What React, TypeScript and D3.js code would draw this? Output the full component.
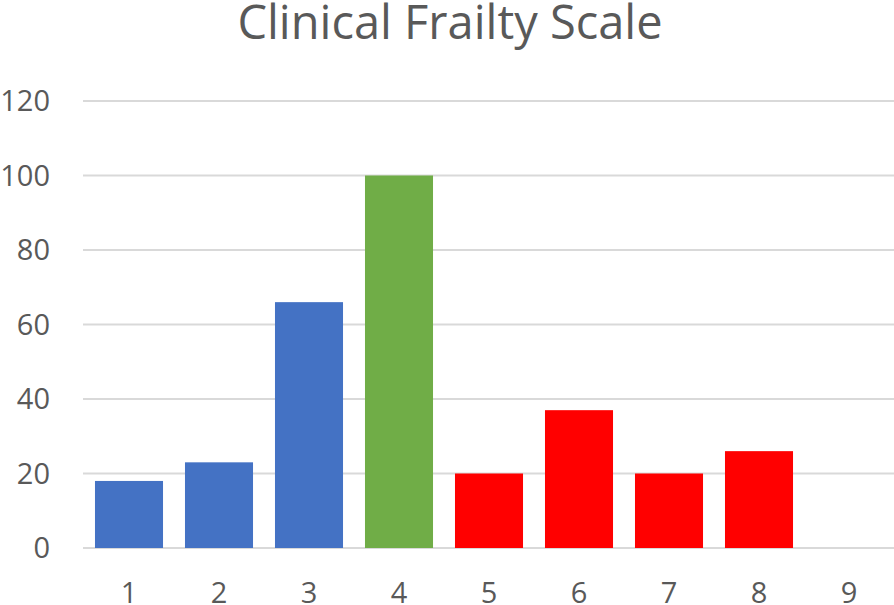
import React, { useEffect, useRef } from 'react';
import * as d3 from 'd3';

const categories = ['1', '2', '3', '4', '5', '6', '7', '8', '9'];
const values = [18, 23, 66, 100, 20, 37, 20, 26, 0];
const barColors = ['#4472C4', '#4472C4', '#4472C4', '#70AD47', '#FF0000', '#FF0000', '#FF0000', '#FF0000', '#FF0000'];
const yTicks = [0, 20, 40, 60, 80, 100, 120];
const title = 'Clinical Frailty Scale';

const W = 894;
const H = 605;

export default function App() {
  const ref = useRef<SVGSVGElement>(null);

  useEffect(() => {
    const svg = d3.select(ref.current);
    svg.selectAll('*').remove();

    const font = "'Open Sans', sans-serif";
    const textColor = '#595959';

    const x = d3.scaleBand().domain(categories).range([84, 894]).paddingInner(0.244).paddingOuter(0.122);
    const y = d3.scaleLinear().domain([0, 120]).range([548, 101]);

    // grid
    svg.append('g')
      .selectAll('line')
      .data(yTicks)
      .enter()
      .append('line')
      .attr('x1', 83)
      .attr('x2', W)
      .attr('y1', d => y(d))
      .attr('y2', d => y(d))
      .attr('stroke', '#D9D9D9')
      .attr('stroke-width', 2);

    // y labels
    svg.append('g')
      .selectAll('text')
      .data(yTicks)
      .enter()
      .append('text')
      .attr('x', 50)
      .attr('y', d => y(d))
      .attr('dy', '0.36em')
      .attr('text-anchor', 'end')
      .attr('font-family', font)
      .attr('font-size', 29)
      .attr('fill', textColor)
      .text(d => d);

    // bars
    svg.append('g')
      .selectAll('rect')
      .data(values)
      .enter()
      .append('rect')
      .attr('x', (d, i) => x(categories[i])!)
      .attr('y', d => y(d))
      .attr('width', x.bandwidth())
      .attr('height', d => y(0) - y(d))
      .attr('fill', (d, i) => barColors[i]);

    // x labels
    svg.append('g')
      .selectAll('text')
      .data(categories)
      .enter()
      .append('text')
      .attr('x', d => x(d)! + x.bandwidth() / 2)
      .attr('y', 603)
      .attr('text-anchor', 'middle')
      .attr('font-family', font)
      .attr('font-size', 29)
      .attr('fill', textColor)
      .text(d => d);

    svg.append('text')
      .attr('x', 450)
      .attr('y', 39)
      .attr('text-anchor', 'middle')
      .attr('font-family', font)
      .attr('font-size', 47)
      .attr('fill', textColor)
      .text(title);
  }, []);

  return (
    <div style={{ position: 'absolute', left: 0, top: 0 }}>
      <svg ref={ref} width={W} height={H} style={{ display: 'block', background: '#fff' }} />
    </div>
  );
}
